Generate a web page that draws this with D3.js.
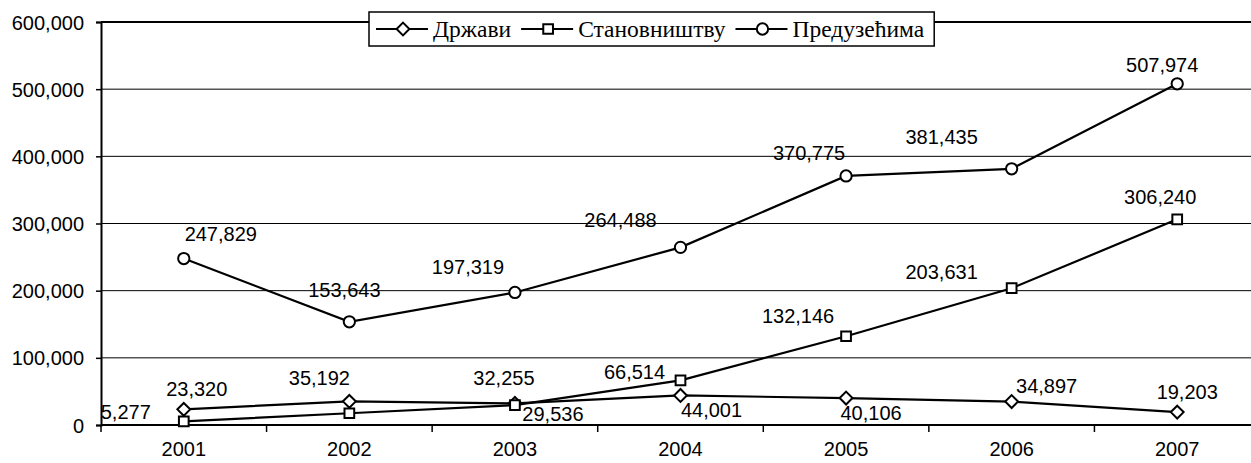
<!DOCTYPE html>
<html>
<head>
<meta charset="utf-8">
<script src="https://cdn.jsdelivr.net/npm/d3@7"></script>
<style>
  html, body { margin: 0; padding: 0; background: #fff; }
  svg { display: block; }
  text { font-family: "Liberation Sans", Arial, sans-serif; fill: #000; }
  .legend text { font-family: "Liberation Serif", "Times New Roman", serif; }
</style>
</head>
<body>
<svg id="chart" width="1251" height="463"></svg>
<script>
// categories + series
const years = ["2001", "2002", "2003", "2004", "2005", "2006", "2007"];
const drzavi = [23320, 35192, 32255, 44001, 40106, 34897, 19203];
const stanovnistvu = [5277, 17500, 29536, 66514, 132146, 203631, 306240];
const preduzecima = [247829, 153643, 197319, 264488, 370775, 381435, 507974];
const yTicks = [0, 100000, 200000, 300000, 400000, 500000, 600000];

// which points carry a value label (2002 households has none in the original)
const showLabel = {
  drzavi: [1, 1, 1, 1, 1, 1, 1],
  stanovnistvu: [1, 0, 1, 1, 1, 1, 1],
  preduzecima: [1, 1, 1, 1, 1, 1, 1]
};

// label nudges (dx, dy from the point), layout only
const labelOffset = {
  drzavi: [[13, -20], [-30, -23], [-11, -25], [31, 15], [25, 15], [35, -16], [10, -20]],
  stanovnistvu: [[-58, -9], [0, -20], [38, 9], [-46, -8], [-48, -20], [-70, -16], [-17, -22]],
  preduzecima: [[37, -25], [-5, -32], [-47, -25], [-60, -27], [-37, -23], [-70, -32], [-15, -19]]
};

const series = [
  { key: "drzavi", name: "Држави", values: drzavi, marker: "diamond" },
  { key: "stanovnistvu", name: "Становништву", values: stanovnistvu, marker: "square" },
  { key: "preduzecima", name: "Предузећима", values: preduzecima, marker: "circle" }
];

const svg = d3.select("#chart");
const pLeft = 101, pRight = 1260, pTop = 22, pBottom = 425;

const x = d3.scaleBand().domain(years).range([pLeft, pRight]).paddingInner(0).paddingOuter(0);
const y = d3.scaleLinear().domain([0, 600000]).range([pBottom, pTop]);
const fmt = d3.format(",");

// gridlines
svg.append("g").selectAll("line").data(yTicks.slice(1, -1)).join("line")
  .attr("x1", pLeft).attr("x2", pRight)
  .attr("y1", d => y(d)).attr("y2", d => y(d))
  .attr("stroke", "#000").attr("stroke-width", 1);

// plot top border
svg.append("line").attr("x1", pLeft).attr("x2", pRight)
  .attr("y1", y(600000)).attr("y2", y(600000))
  .attr("stroke", "#000").attr("stroke-width", 2);

// y axis
const yAxis = svg.append("g").attr("transform", `translate(${pLeft},0)`)
  .call(d3.axisLeft(y).tickValues(yTicks).tickFormat(fmt).tickSize(5).tickPadding(12));
yAxis.select(".domain").attr("stroke-width", 2);
yAxis.selectAll(".tick line").attr("stroke-width", 1.5);
yAxis.selectAll("text").style("font-size", "20px").attr("dy", "0.35em");

// x axis: ticks at band boundaries, labels at band centres
const xAxis = svg.append("g").attr("transform", `translate(0,${pBottom})`);
xAxis.append("line").attr("x1", pLeft).attr("x2", pRight).attr("stroke", "#000").attr("stroke-width", 2);
xAxis.selectAll("line.tk").data(years.concat(["end"])).join("line").attr("class", "tk")
  .attr("x1", (d, i) => pLeft + i * x.bandwidth()).attr("x2", (d, i) => pLeft + i * x.bandwidth())
  .attr("y1", 0).attr("y2", 7).attr("stroke", "#000").attr("stroke-width", 1.5);
xAxis.selectAll("text").data(years).join("text")
  .attr("x", d => x(d) + x.bandwidth() / 2).attr("y", 24)
  .attr("dy", "0.35em").attr("text-anchor", "middle")
  .style("font-size", "20px").text(d => d);

const cx = d => x(d) + x.bandwidth() / 2;

const markerPath = {
  diamond: d3.symbol(d3.symbolDiamond2, 105)(),
  square: d3.symbol(d3.symbolSquare2, 120)(),
  circle: d3.symbol(d3.symbolCircle2, 100)()
};

const line = d3.line().x((d, i) => cx(years[i])).y(d => y(d));

series.forEach(s => {
  svg.append("path").datum(s.values)
    .attr("d", line).attr("fill", "none").attr("stroke", "#000").attr("stroke-width", 2.2);
});

series.forEach(s => {
  svg.append("g").selectAll("path").data(s.values).join("path")
    .attr("d", markerPath[s.marker])
    .attr("transform", (d, i) => `translate(${cx(years[i])},${y(d)})`)
    .attr("fill", "#fff").attr("stroke", "#000").attr("stroke-width", 2);
});

series.forEach(s => {
  const pts = s.values.map((v, i) => ({ v, i })).filter(p => showLabel[s.key][p.i]);
  svg.append("g").selectAll("text").data(pts).join("text")
    .attr("x", p => cx(years[p.i]) + labelOffset[s.key][p.i][0])
    .attr("y", p => y(p.v) + labelOffset[s.key][p.i][1])
    .attr("dy", "0.35em").attr("text-anchor", "middle")
    .style("font-size", "20px").text(p => fmt(p.v));
});

// legend
const lg = svg.append("g").attr("class", "legend");
const box = lg.append("rect").attr("x", 369).attr("y", 12).attr("height", 34)
  .attr("fill", "#fff").attr("stroke", "#000").attr("stroke-width", 1.5);
let lx = 376;
const ly = 29;
series.forEach(s => {
  lg.append("line").attr("x1", lx).attr("x2", lx + 52).attr("y1", ly).attr("y2", ly)
    .attr("stroke", "#000").attr("stroke-width", 2.2);
  lg.append("path").attr("d", markerPath[s.marker])
    .attr("transform", `translate(${lx + 27},${ly})`)
    .attr("fill", "#fff").attr("stroke", "#000").attr("stroke-width", 2);
  const t = lg.append("text").attr("x", lx + 57).attr("y", ly).attr("dy", "0.35em")
    .style("font-size", "23.5px").text(s.name);
  lx += 57 + t.node().getComputedTextLength() + 10;
});
box.attr("width", lx - 369);
</script>
</body>
</html>
